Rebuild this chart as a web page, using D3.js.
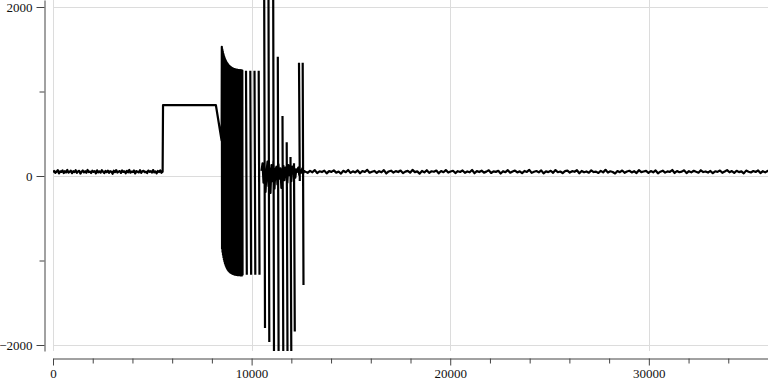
<!DOCTYPE html>
<html><head><meta charset="utf-8">
<script src="https://cdn.jsdelivr.net/npm/d3@7"></script>
<style>
body{margin:0;background:#fff}
svg{display:block}
text{font-family:"Liberation Serif","Times New Roman",serif;font-size:13px}
</style></head>
<body><svg id="c" width="768" height="384"></svg>
<script>
// ---- tick labels ----
const xMajorTicks = [0, 10000, 20000, 30000];
const xMinorTicks = [2000, 4000, 6000, 8000, 12000, 14000, 16000, 18000, 22000, 24000, 26000, 28000, 32000, 34000];
const yMajorTicks = [-2000, 0, 2000];
const yMinorTicks = [-1000, 1000];

// ---- trace data (time, value) ----
const sampleStepBefore = 60;   // sampling interval of the first baseline
const baselineBefore = [45,60,38,52,70,30,55,48,66,35,58,42,72,40,50,63,33,57,46,68,37,54,61,29,50,65,44,56,39,71,47,53,36,62,49,58,31,67,43,55,40,69,51,34,60,46,64,38,57,50,27,63,45,70,41,52,59,36,66,48,55,33,61,44,72,39,53,47,65,30,58,50,42,68,37,56,62,45,51,35,64,49,57,40,70,43,54,32,60,47,66,38,52];
const plateauTimes = [5540, 8200, 8490];
const plateauValues = [840, 840, 420];

const burstStart = 8500, burstStep = 24;   // dense oscillation sampling
const burstHigh = [1530,1500,1475,1450,1430,1410,1395,1380,1368,1356,1346,1337,1329,1321,1314,1308,1302,1297,1292,1288,1284,1280,1277,1274,1271,1268,1266,1264,1262,1260,1258,1257,1256,1255,1254,1253,1252,1251,1250,1250,1249,1249,1248,1248];
const burstLow = [-860,-900,-935,-965,-990,-1012,-1032,-1050,-1065,-1078,-1090,-1100,-1109,-1117,-1124,-1130,-1136,-1141,-1145,-1149,-1152,-1155,-1158,-1160,-1162,-1164,-1166,-1167,-1168,-1169,-1170,-1171,-1172,-1172,-1173,-1173,-1174,-1174,-1175,-1175,-1175,-1176,-1176,-1176];

const spikeTimes = [9718, 9934, 10146, 10357, 10634, 10850, 11087, 11319, 11555, 11767, 11958, 12134, 12386, 12572];
const spikeHigh  = [1245, 1245, 1245, 1245, 2150, 2150, 2150, 1410, 710, 400, 225, 150, 1340, 1340];
const spikeLow   = [-1170, -1170, -1170, -1170, -1800, -1965, -2100, -2100, -2100, -2100, -2100, -1840, -60, -1290];

const ringStart = 10500, ringStep = 50;
const ringing = [60,150,-80,120,-190,40,170,-120,90,-200,130,-60,180,-150,70,110,-100,140,-30,90,-140,60,120,-50,100,20,-80,130,10,70,-60,110,30,90,-20,80,50,100,10,70,40,90,30,60];

const afterStart = 12700, afterStep = 120;
const baselineAfter = [52,38,61,44,70,35,56,47,64,31,58,49,67,40,53,29,62,45,71,37,55,42,66,33,59,48,73,39,51,60,36,57,44,69,30,54,63,41,58,47,65,34,52,61,39,72,46,55,28,60,43,68,37,56,50,64,32,59,45,70,41,53,62,35,57,48,66,38,54,44,71,33,58,47,63,40,52,67,36,55,49,61,30,57,45,69,39,53,64,42,56,34,60,48,72,37,51,59,43,66,31,55,46,62,38,70,45,53,35,58,64,41,57,50,68,33,60,44,54,39,67,47,52,36,61,43,73,40,56,48,30,59,45,65,38,54,62,42,57,35,69,46,53,60,37,58,44,66,32,51,63,40,55,48,71,36,59,45,52,67,34,57,43,62,50,39,68,47,54,41,60,33,56,49,65,38,53,70,44,58,37,62,46,55,31,64,51,42,59,48,66,35,57,43,61,50];

// ---- assemble path points (null = gap) ----
const pts = [];
baselineBefore.forEach((v, i) => pts.push([i * sampleStepBefore, v]));
plateauTimes.forEach((t, i) => pts.push([t, plateauValues[i]]));
burstHigh.forEach((h, i) => {
  const t = burstStart + i * burstStep;
  pts.push([t, h]);
  pts.push([t + burstStep / 2, burstLow[i]]);
});
pts.push(null);
spikeTimes.forEach((t, i) => {
  pts.push([t, spikeHigh[i]]);
  pts.push([t + 40, spikeLow[i]]);
  pts.push(null);
});
ringing.forEach((v, i) => pts.push([ringStart + i * ringStep, v]));
baselineAfter.forEach((v, i) => pts.push([afterStart + i * afterStep, v]));

// ---- layout ----
const svg = d3.select("#c");
const L = 53, R = 768, T = 0, B = 351;
const x = d3.scaleLinear().domain([0, 36000]).range([L, R]);
const y = d3.scaleLinear().domain([-2071, 2083]).range([B, T]);

// grid
const grid = svg.append("g").attr("stroke", "#dcdcdc").attr("stroke-width", 1);
xMajorTicks.forEach(t => grid.append("line")
  .attr("x1", Math.round(x(t)) + 0.5).attr("x2", Math.round(x(t)) + 0.5).attr("y1", T).attr("y2", B));
yMajorTicks.forEach(t => grid.append("line")
  .attr("x1", L).attr("x2", R).attr("y1", Math.round(y(t)) + 0.5).attr("y2", Math.round(y(t)) + 0.5));

// trace
svg.append("clipPath").attr("id", "clip").append("rect")
  .attr("x", L).attr("y", T).attr("width", R - L).attr("height", B - T);
const line = d3.line().defined(d => d !== null).x(d => x(d[0])).y(d => y(d[1]));
svg.append("path").attr("clip-path", "url(#clip)")
  .attr("d", line(pts)).attr("fill", "none").attr("stroke", "#000")
  .attr("stroke-width", 2.2).attr("stroke-linejoin", "round");

// axes
const axCol = "#444";
const yAxisG = svg.append("g").attr("transform", "translate(44.5,0)");
yAxisG.call(d3.axisLeft(y).tickValues(yMajorTicks).tickSize(8).tickSizeOuter(0).tickPadding(4).tickFormat(d3.format("d")));
const yMinorG = svg.append("g").attr("transform", "translate(44.5,0)");
yMinorG.call(d3.axisLeft(y).tickValues(yMinorTicks).tickSize(5).tickSizeOuter(0).tickFormat(""));
yMinorG.select(".domain").remove();

const xAxisG = svg.append("g").attr("transform", "translate(0,358.5)");
xAxisG.call(d3.axisBottom(x).tickValues(xMajorTicks).tickSize(7).tickSizeOuter(0).tickPadding(3).tickFormat(d3.format("d")));
const xMinorG = svg.append("g").attr("transform", "translate(0,358.5)");
xMinorG.call(d3.axisBottom(x).tickValues(xMinorTicks).tickSize(5).tickSizeOuter(0).tickFormat(""));
xMinorG.select(".domain").remove();

svg.selectAll(".domain, .tick line").attr("stroke", axCol);
svg.selectAll(".tick text").attr("fill", "#111").style("font-family", "'Liberation Serif', serif").style("font-size", "13px");
</script></body></html>
